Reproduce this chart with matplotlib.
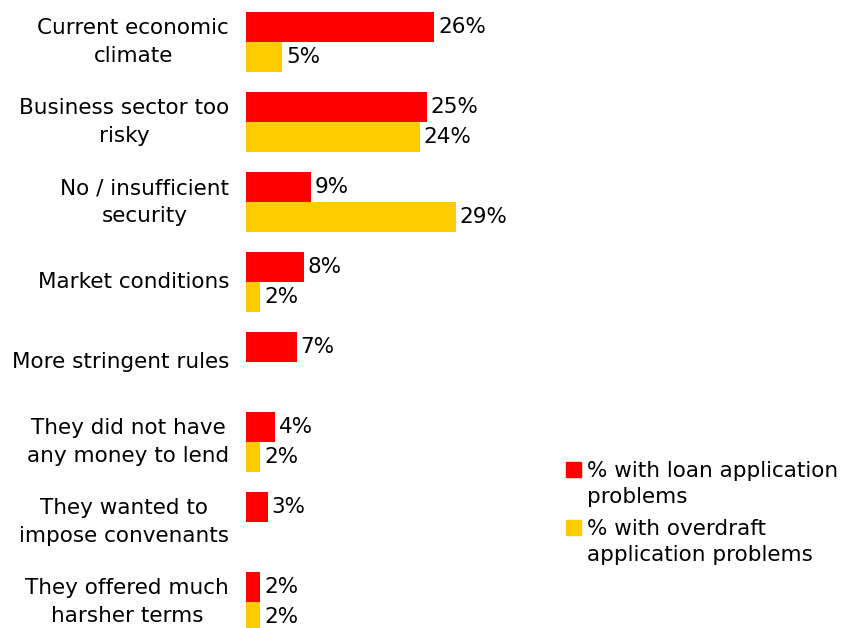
import numpy as np
import matplotlib
matplotlib.use("Agg")
import matplotlib.pyplot as plt
from matplotlib.patches import Rectangle

# Reasons given for loan / overdraft application problems
categories = [
    "Current economic\nclimate",
    "Business sector too\nrisky",
    "No / insufficient\nsecurity",
    "Market conditions",
    "More stringent rules",
    "They did not have\nany money to lend",
    "They wanted to\nimpose convenants",
    "They offered much\nharsher terms",
]
loan_pct = [26, 25, 9, 8, 7, 4, 3, 2]
overdraft_pct = [5, 24, 29, 2, np.nan, 2, np.nan, 2]
series_labels = [["% with loan application", "problems"],
                 ["% with overdraft", "application problems"]]

RED = "#FF0000"
YELLOW = "#FFCC00"
FS = 15.5

plt.rcParams["font.family"] = ["DejaVu Sans"]
plt.rcParams["font.size"] = FS

W, H = 858, 628
fig = plt.figure(figsize=(W / 100, H / 100), dpi=100)
ax = fig.add_axes([246 / W, 0, 1 - 246 / W, 1])


def fig_xy(px, py):
    """Pixel position (from the top-left corner) to figure fraction."""
    return px / W, 1 - py / H


y = np.arange(len(categories))
h = 0.375
ax.barh(y - h / 2, loan_pct, height=h, color=RED)
ax.barh(y + h / 2, overdraft_pct, height=h, color=YELLOW)

for yi, v in zip(y, loan_pct):
    ax.text(v + 0.55, yi - h / 2, f"{v}%", va="center", ha="left")
for yi, v in zip(y, overdraft_pct):
    if not np.isnan(v):
        ax.text(v + 0.55, yi + h / 2, f"{v:.0f}%", va="center", ha="left")

ax.set_xlim(0, 612 / 7.23)
ax.set_ylim(7.325, -0.525)
ax.set_yticks(y)
ax.set_yticklabels(categories, linespacing=1.46, va="center")
for lbl in ax.get_yticklabels():
    lbl.set_multialignment("center")
ax.tick_params(axis="y", length=0, pad=12.2)
ax.set_xticks([])
for s in ax.spines.values():
    s.set_visible(False)

# Legend: coloured square beside the first line of each two-line label
legend_rows = [(RED, 477, series_labels[0]), (YELLOW, 535, series_labels[1])]
for color, base, lines in legend_rows:
    x0, y0 = fig_xy(566, base)
    fig.patches.append(Rectangle((x0, y0), 15 / W, 15 / H, color=color,
                                 transform=fig.transFigure, figure=fig))
    for k, line in enumerate(lines):
        tx, ty = fig_xy(587, base + 26 * k)
        fig.text(tx, ty, line, ha="left", va="baseline")

fig.savefig("out.png", dpi=100)
